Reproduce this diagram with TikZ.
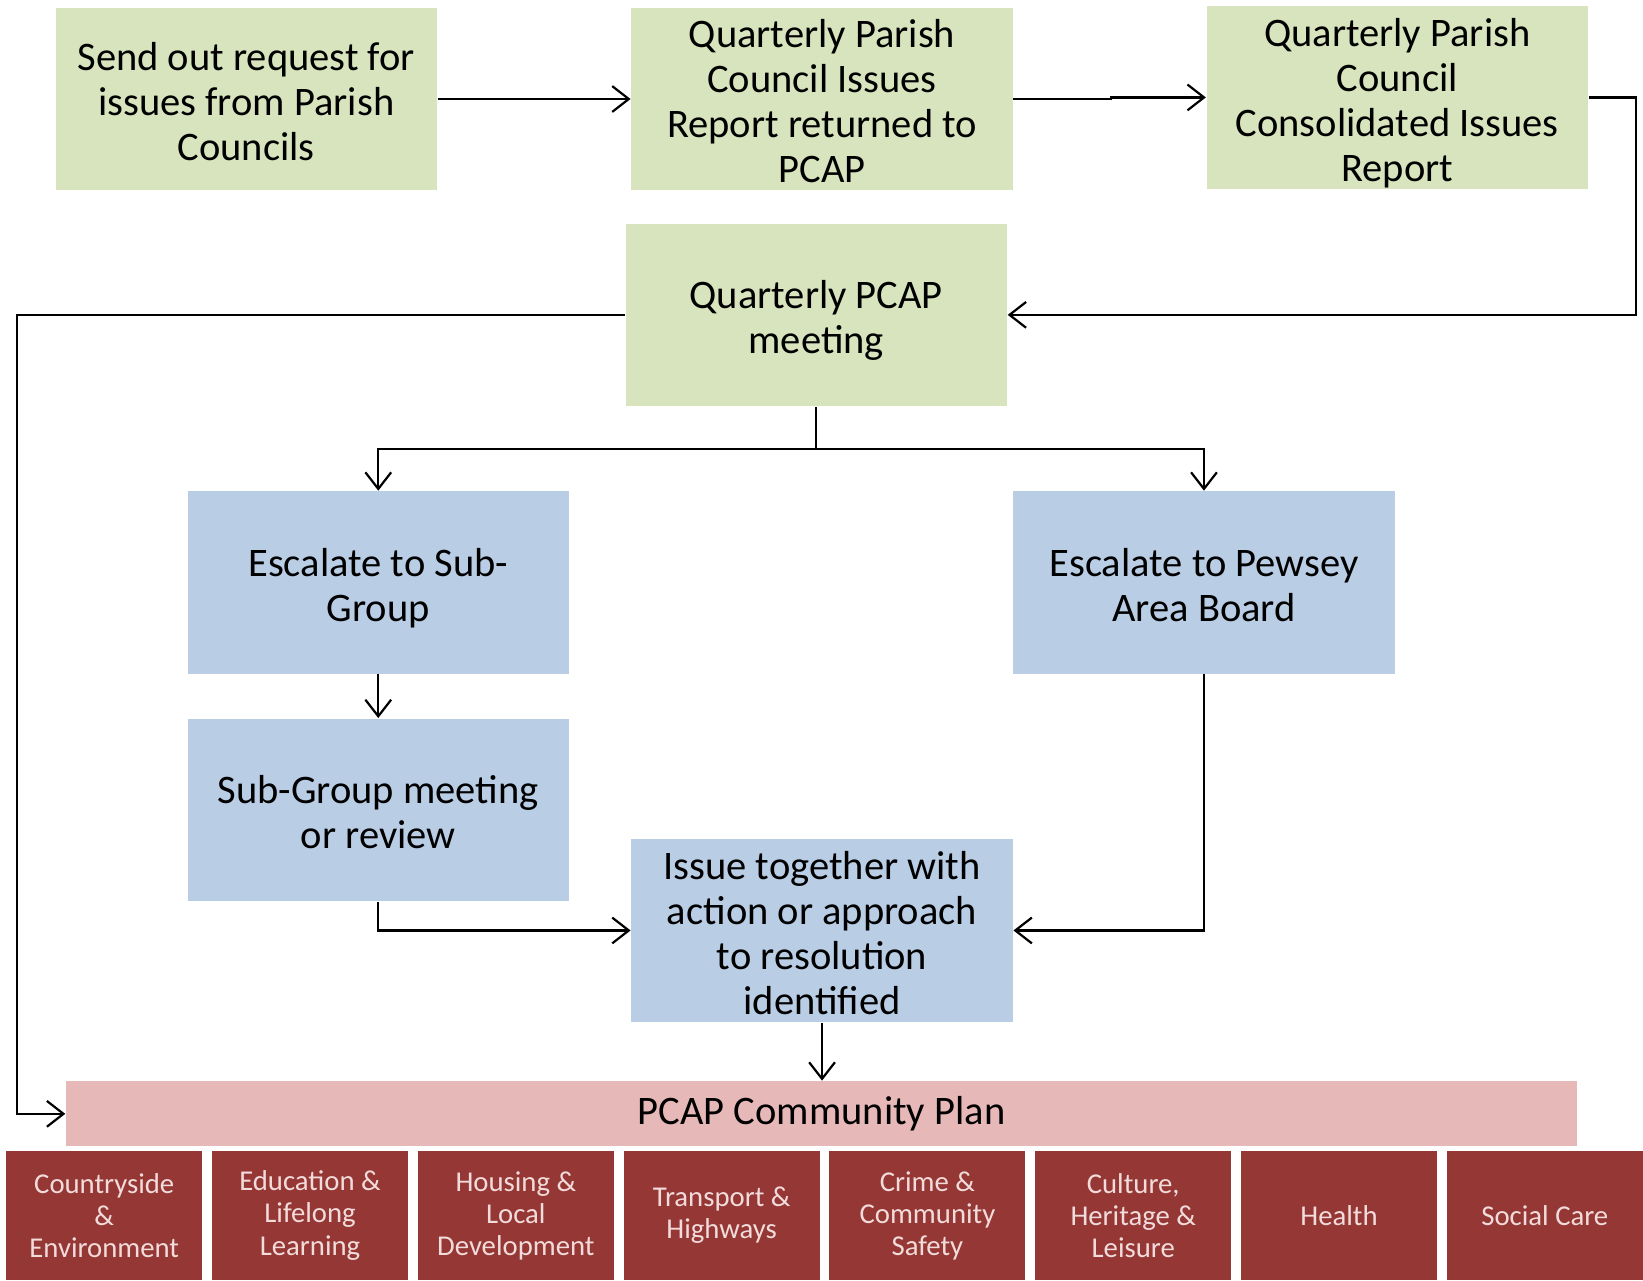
\documentclass[tikz,border=0pt]{standalone}
\usepackage{fontspec}
\setmainfont{Carlito}
\usepackage{tikz}
\usetikzlibrary{calc,arrows.meta}
\usepackage{xcolor}
\definecolor{stepgreen}{HTML}{D7E4BD}
\definecolor{stepblue}{HTML}{B9CDE5}
\definecolor{planpink}{HTML}{E6B9B8}
\definecolor{topicred}{HTML}{953735}
\definecolor{topictext}{HTML}{F2DCDB}
\newcommand{\mainsize}{\fontsize{11}{12.2}\selectfont}
\newcommand{\topicsize}{\fontsize{7.8}{8.7}\selectfont}
\newcommand{\firstline}{\rule{0pt}{10.9pt}}
\newcommand{\lastline}{\rule[-2.1pt]{0pt}{0pt}}
\tikzset{
	greenbox/.style={fill=stepgreen,minimum width=3.64cm,minimum height=1.74cm,inner sep=0pt,align=center,font=\mainsize},
	bluebox/.style={greenbox,fill=stepblue},
	planbar/.style={fill=planpink,minimum width=14.42cm,minimum height=0.62cm,inner sep=0pt,font=\mainsize},
	topic/.style={fill=topicred,text=topictext,minimum width=1.87cm,minimum height=1.24cm,inner sep=0pt,align=center,font=\topicsize},
	flow/.style={draw=black,line width=0.6pt,-{Straight Barb[length=4.5pt,width=7pt]}}
}
\newcommand{\stepbox}[5]{\node[#1] (#2) at (#3,#4) {\firstline#5\lastline};}
\newcommand{\topicbox}[3]{\node[topic] (#1) at (#2,-11.6) {#3};}

\begin{document}
\begin{tikzpicture}
		\useasboundingbox (0,0) rectangle (15.68,-12.22);
		
		\stepbox{greenbox}{request}{2.35}{-0.945}{Send out request for\\issues from Parish\\Councils}
		\stepbox{greenbox}{returned}{7.845}{-0.945}{Quarterly Parish\\Council Issues\\Report returned to\\PCAP}
		\stepbox{greenbox}{consolidated}{13.335}{-0.93}{Quarterly Parish\\Council\\Consolidated Issues\\Report}
		\stepbox{greenbox}{meeting}{7.79}{-3.005}{Quarterly PCAP\\meeting}
		
		\stepbox{bluebox}{subgroup}{3.61}{-5.56}{Escalate to Sub-\\Group}
		\stepbox{bluebox}{areaboard}{11.49}{-5.56}{Escalate to Pewsey\\Area Board}
		\stepbox{bluebox}{review}{3.61}{-7.73}{Sub-Group meeting\\or review}
		\stepbox{bluebox}{resolution}{7.845}{-8.88}{Issue together with\\action or approach\\to resolution\\identified}
		
		\node[planbar] (plan) at (7.84,-10.63) {PCAP Community Plan};
		
		\topicbox{countryside}{0.995}{Countryside\\\&\\Environment}
		\topicbox{education}{2.959}{Education \&\\Lifelong\\Learning}
		\topicbox{housing}{4.923}{Housing \&\\Local\\Development}
		\topicbox{transport}{6.887}{Transport \&\\Highways}
		\topicbox{crime}{8.851}{Crime \&\\Community\\Safety}
		\topicbox{culture}{10.815}{Culture,\\Heritage \&\\Leisure}
		\topicbox{health}{12.779}{Health}
		\topicbox{socialcare}{14.743}{Social Care}
		
		\draw[flow] (request.east) -- (returned.west);
		\draw[flow] (returned.east) -- ++(0.93,0) |- (consolidated.west);
		\draw[flow] (consolidated.east) -- ++(0.45,0) |- (meeting.east);
		\draw[flow] (meeting.west) -- ++(-5.8,0) |- (plan.west);
		
		\draw[flow] (meeting.south) -- ++(0,-0.4) -| (subgroup.north);
		\draw[flow] (meeting.south) -- ++(0,-0.4) -| (areaboard.north);
		\draw[flow] (subgroup.south) -- (review.north);
		\draw[flow] (review.south) |- (resolution.west);
		\draw[flow] (areaboard.south) |- (resolution.east);
		\draw[flow] (resolution.south) -- (resolution.south |- plan.north);
		
	\end{tikzpicture}
\end{document}
